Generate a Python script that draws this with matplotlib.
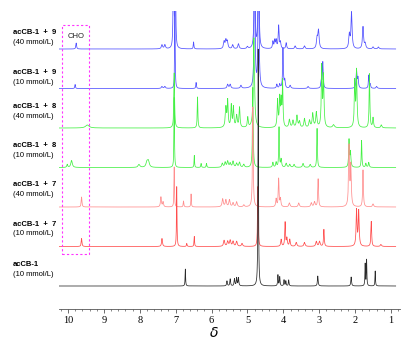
import numpy as np
import matplotlib
matplotlib.use("Agg")
import matplotlib.pyplot as plt
from matplotlib.ticker import MultipleLocator

# ---------------- data (peak lists: ppm, height, half-width) ----------------
labels_top = ["acCB-1  +  9", "acCB-1  +  9", "acCB-1  +  8", "acCB-1  +  8",
              "acCB-1  +  7", "acCB-1  +  7", "acCB-1"]
labels_conc = ["(40 mmol/L)", "(10 mmol/L)", "(40 mmol/L)", "(10 mmol/L)",
               "(40 mmol/L)", "(10 mmol/L)", "(10 mmol/L)"]
colors = ["#5050ff", "#5050ff", "#44f044", "#44f044", "#ff8e8e", "#ff4d4d", "#2a2a2a"]

peaks_9_40 = [(9.77, 6, .012), (7.38, 4, .02), (7.30, 4, .02), (7.06, 300, .006), (7.01, 300, .006),
              (6.50, 7, .01), (5.65, 7, .02), (5.60, 8, .02), (5.56, 7, .02), (5.41, 4, .02),
              (5.25, 5, .02), (5.00, 2, .02), (4.80, 300, .008), (4.69, 300, .008),
              (4.29, 7, .015), (4.24, 8, .015), (4.20, 8, .015), (4.13, 23, .015), (4.08, 6, .015),
              (3.92, 6, .015), (3.67, 3, .02), (3.41, 3, .02), (3.06, 10, .02), (3.02, 18, .02),
              (2.16, 14, .02), (2.10, 36, .018), (1.78, 22, .018), (1.72, 5, .02),
              (1.50, 2, .02), (1.35, 2, .02)]
peaks_9_10 = [(9.80, 4, .01), (7.38, 2, .02), (7.30, 2, .02), (7.02, 80, .008), (6.43, 6, .01),
              (5.55, 4, .02), (5.48, 4, .02), (5.18, 3, .02), (4.80, 250, .01), (4.69, 250, .01),
              (4.18, 4, .015), (4.10, 4, .015), (4.01, 40, .012), (3.96, 8, .015),
              (3.81, 3, .02), (3.31, 2, .02), (2.94, 8, .015), (2.90, 26, .012),
              (1.96, 18, .015), (1.92, 10, .015), (1.62, 13, .012), (1.58, 4, .015), (1.40, 2, .02)]
peaks_8_40 = [(9.46, 3, .06), (7.04, 55, .012), (6.39, 31, .01),
              (5.60, 20, .02), (5.55, 26, .015), (5.45, 22, .015), (5.39, 20, .015), (5.30, 12, .02),
              (5.22, 20, .015), (4.99, 10, .015), (4.82, 90, .02),
              (4.16, 27, .015), (4.10, 28, .015), (4.06, 25, .015), (4.02, 45, .012),
              (3.83, 8, .02), (3.73, 7, .02), (3.62, 12, .02), (3.55, 6, .02), (3.41, 9, .02),
              (3.27, 7, .02), (3.18, 14, .02), (3.08, 15, .02), (2.93, 60, .015), (2.88, 50, .015),
              (2.60, 3, .03), (2.01, 45, .015), (1.96, 56, .015), (1.60, 54, .012), (1.50, 10, .015),
              (1.27, 3, .02)]
peaks_8_10 = [(10.02, 3, .015), (9.90, 7, .025), (8.02, 3, .03), (7.80, 5, .03), (7.76, 6, .03),
              (7.04, 70, .008), (6.48, 12, .008), (6.29, 4, .01), (6.14, 4, .01),
              (5.70, 4, .02), (5.62, 5, .02), (5.55, 6, .02), (5.48, 4, .02), (5.40, 6, .02),
              (5.30, 4, .02), (5.22, 5, .02), (5.10, 3, .02), (4.85, 80, .012),
              (4.29, 5, .015), (4.20, 5, .015), (4.12, 40, .01), (4.06, 8, .015),
              (3.92, 4, .02), (3.82, 3, .02), (3.70, 3, .02), (3.45, 4, .02), (3.25, 3, .02),
              (3.06, 39, .01), (2.17, 27, .012), (2.13, 15, .015), (1.82, 27, .01),
              (1.70, 4, .015), (1.62, 5, .015)]
peaks_7_40 = [(9.62, 10, .012), (7.41, 10, .015), (7.35, 5, .015), (7.04, 40, .008),
              (6.78, 6, .01), (6.57, 13, .008), (5.69, 8, .02), (5.60, 7, .02), (5.50, 7, .02),
              (5.40, 4, .02), (5.30, 5, .02), (5.10, 2, .02), (4.85, 100, .012),
              (4.20, 8, .015), (4.13, 28, .012), (4.08, 8, .015), (3.83, 4, .02), (3.57, 4, .02),
              (3.22, 4, .02), (3.13, 5, .02), (3.03, 28, .012), (2.17, 60, .015), (2.12, 40, .015),
              (1.78, 37, .012), (1.50, 3, .02)]
peaks_7_10 = [(9.62, 8, .012), (7.38, 8, .015), (6.97, 60, .008), (6.69, 3, .01), (6.48, 10, .008),
              (5.65, 6, .02), (5.55, 5, .02), (5.48, 6, .02), (5.40, 5, .02), (5.30, 5, .02),
              (5.15, 3, .02), (4.71, 60, .01), (4.06, 7, .015), (3.95, 24, .012), (3.90, 8, .015),
              (3.82, 7, .015), (3.64, 4, .02), (3.41, 4, .02), (3.08, 5, .02), (2.99, 5, .02),
              (2.87, 17, .012), (1.96, 36, .015), (1.90, 35, .015), (1.55, 25, .012), (1.28, 2, .02)]
peaks_blank = [(6.73, 17, .008), (5.57, 5, .012), (5.48, 7, .012), (5.36, 7, .012), (5.30, 8, .012),
               (5.25, 8, .012), (4.70, 237, .008), (4.15, 11, .01), (4.10, 9, .01),
               (3.98, 6, .01), (3.93, 5, .01), (3.85, 6, .01), (3.04, 10, .012), (2.11, 9, .012),
               (1.72, 22, .008), (1.68, 26, .008), (1.44, 15, .008)]

spectra = [peaks_9_40, peaks_9_10, peaks_8_40, peaks_8_10, peaks_7_40, peaks_7_10, peaks_blank]
# label line centers (pixels from top)
label_y1 = [33, 72.5, 107, 146, 184, 224, 265]
label_y2 = [43, 82, 116.5, 155.5, 194, 233.5, 274]
baselines_px = [49, 88.5, 128, 167.5, 207, 246.5, 286]

tick_vals = [10, 9, 8, 7, 6, 5, 4, 3, 2, 1]

# ---------------- figure ----------------
W, H = 418, 343
fig = plt.figure(figsize=(W / 100, H / 100), dpi=100)
ax_left, ax_right, ax_top, ax_bot = 59, 400, 11, 309
ax = fig.add_axes([ax_left / W, (H - ax_bot) / H, (ax_right - ax_left) / W, (ax_bot - ax_top) / H])
ax.set_xlim(10.25, 0.75)
ax.set_ylim(0, ax_bot - ax_top)

x = np.linspace(0.80, 10.25, 8000)
for peaks, base_px, col in zip(spectra, baselines_px, colors):
    y = np.zeros_like(x)
    for p, h, w in peaks:
        y += h * w ** 2 / ((x - p) ** 2 + w ** 2)
    base = ax_bot - base_px
    m = x >= 0.87
    ax.plot(x[m], (y + base)[m], color=col, lw=0.55)

# CHO dotted box
bx0, bx1 = 10.17, 9.41
by0, by1 = ax_bot - 254, ax_bot - 25
ax.plot([bx0, bx1, bx1, bx0, bx0], [by0, by0, by1, by1, by0], color="#ff33ff",
        lw=0.8, ls=(0, (2, 2)))
ax.text(9.78, ax_bot - 36, "CHO", fontsize=5.5, ha="center", va="center",
        family="Liberation Sans", color="#222222")

for s in ["top", "left", "right"]:
    ax.spines[s].set_visible(False)
ax.spines["bottom"].set_color("#555555")
ax.spines["bottom"].set_linewidth(0.6)
ax.set_yticks([])
ax.set_xticks(tick_vals)
ax.set_xticklabels([str(t) for t in tick_vals], family="Liberation Serif", fontsize=7.5)
ax.xaxis.set_minor_locator(MultipleLocator(0.2))
ax.tick_params(axis="x", which="major", length=3, width=0.6, color="#555555", pad=2)
ax.tick_params(axis="x", which="minor", length=1.5, width=0.5, color="#555555")
fig.text(214 / W, 1 - 333 / H, r"$\delta$", ha="center", va="center", fontsize=10,
         family="Liberation Serif", style="italic")

for t1, t2, y1, y2 in zip(labels_top, labels_conc, label_y1, label_y2):
    fig.text(13 / W, 1 - y1 / H, t1, fontsize=5.5, fontweight="bold", family="Liberation Sans",
             va="center", ha="left")
    fig.text(13 / W, 1 - y2 / H, t2, fontsize=5.5, family="Liberation Sans",
             va="center", ha="left")

fig.savefig("out.png", dpi=100)
